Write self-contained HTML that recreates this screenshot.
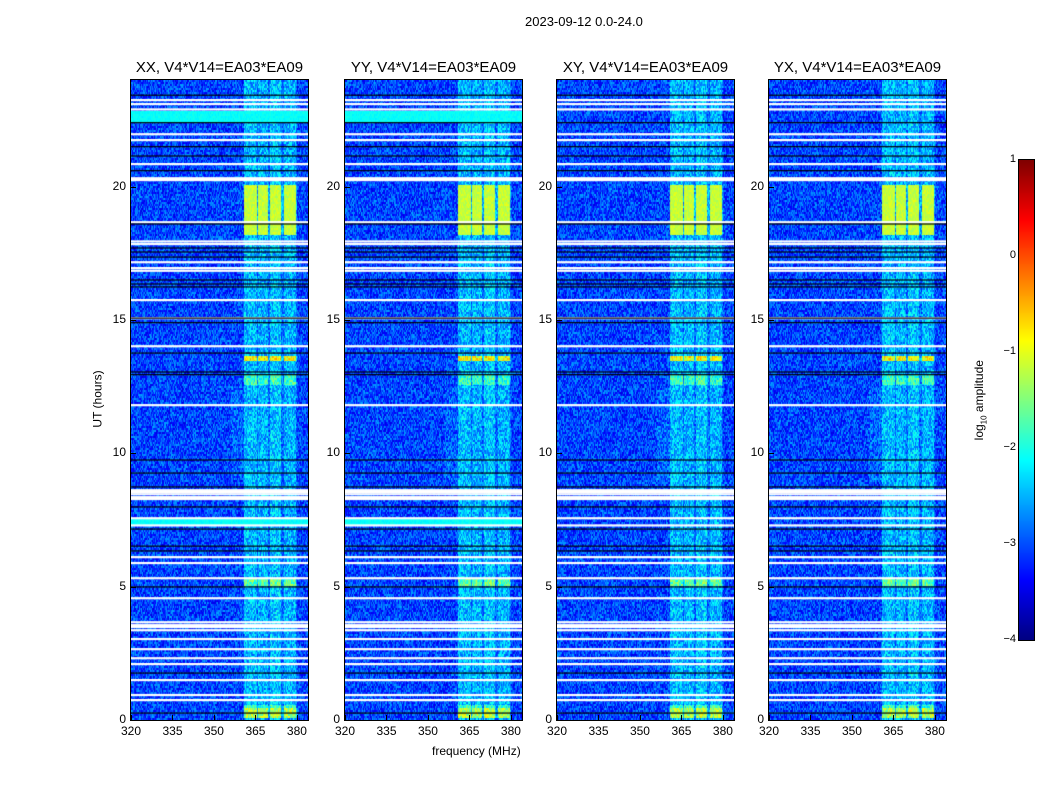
<!DOCTYPE html>
<html><head><meta charset="utf-8">
<style>
body{margin:0;background:#fff;width:1050px;height:800px;overflow:hidden;font-family:"Liberation Sans",sans-serif;}
#root{position:relative;width:1050px;height:800px;}
.t{position:absolute;white-space:nowrap;color:#000;}
canvas{position:absolute;}
</style></head><body>
<div id="root">
<div class="t" style="left:525px;top:14px;font-size:13px">2023-09-12 0.0-24.0</div>
<div class="t" style="left:432px;top:744px;font-size:12px">frequency (MHz)</div>
<div class="t" style="left:69px;top:392px;font-size:12px;transform:rotate(-90deg);transform-origin:center">UT (hours)</div>
<div class="t" style="left:940px;top:392px;font-size:12px;transform:rotate(-90deg)">log<sub style="font-size:8px">10</sub> amplitude</div>
</div>
<script>
// ---- data ----
const panelTitles=["XX, V4*V14=EA03*EA09","YY, V4*V14=EA03*EA09","XY, V4*V14=EA03*EA09","YX, V4*V14=EA03*EA09"];
const panelLeft=[131,345,557,769];
const xTicks=[320,335,350,365,380];
const yTicks=[0,5,10,15,20];
const cbTicks=[1,0,-1,-2,-3,-4];
// RFI sub-bands [startMHz,endMHz]
const bandStart=[360.5,365.9,370.2,375.3];
const bandEnd=[365.2,369.5,374.2,379.6];
const bandBase=[-2.45,-2.5,-2.4,-2.5];
// RFI events [startHour,endHour,boost]
const eventStart=[18.2,13.5,12.6,5.05,0.1,0.45];
const eventEnd=[20.1,13.65,12.95,5.3,0.45,0.6];
const eventBoost=[1.1,1.6,0.6,0.8,1.2,0.6];
// flagged rows (hours), white = blank, black = dark
const whiteRows=[23.25,23.1,22.9,21.97,21.75,20.85,20.32,20.25,18.67,17.95,17.85,17.17,16.95,16.85,15.75,15.07,14.02,11.81,8.62,8.55,8.47,8.36,8.29,7.57,7.3,6.11,5.89,5.32,4.57,3.67,3.56,3.49,3.37,3.04,2.66,2.32,2.1,1.5,0.94,0.75];
const blackRows=[23.43,22.4,21.5,21.15,20.6,18.6,17.7,17.55,17.36,16.5,16.35,16.24,15.07,14.9,13.76,13.05,12.95,9.75,9.26,8.74,7.99,7.16,6.52,6.34,4.99,1.76,0.26];
const cyanBandPanels=[1,1,0,0];
// ---- drawing ----
const root=document.getElementById('root');
const X0=320,X1=384,PW=177,TOP=80,BOT=720,H=24;
function xs(f){return (f-X0)/(X1-X0)*PW;}
function ys(h){return BOT-h/H*(BOT-TOP);}
function jet(v){let t=(v+4)/5;t=Math.max(0,Math.min(1,t));
 const c=x=>Math.round(255*Math.max(0,Math.min(1,1.5-Math.abs(4*t-x))));
 return [c(3),c(2),c(1)];}
function hash(a,b,c){let h=(a*374761393+b*668265263+c*2147483647)|0;h=(h^(h>>>13))*1274126177;h=h^(h>>>16);return ((h>>>0)%10000)/10000;}
for(let p=0;p<4;p++){
 const L=panelLeft[p];
 const cv=document.createElement('canvas');
 
 
 cv.width=PW;cv.height=BOT-TOP;cv.style.left=L+'px';cv.style.top=TOP+'px';
 root.appendChild(cv);
 const ctx=cv.getContext('2d');const img=ctx.createImageData(PW,BOT-TOP);
 for(let y=0;y<BOT-TOP;y++){
  const hr=(BOT-TOP-y)/(BOT-TOP)*H;const row=y>>1;
  let ev=0;for(let i=0;i<eventStart.length;i++)if(hr>=eventStart[i]&&hr<eventEnd[i])ev=Math.max(ev,eventBoost[i]);
  const cyan=(cyanBandPanels[p]&&hr>22.4&&hr<22.85)||(hr>7.32&&hr<7.55&&p<2);
  for(let x=0;x<PW;x++){
   const f=X0+x/PW*(X1-X0);
   let v=-3.05+(hash(row,x,p)-0.5)*1.0;
   if(f>=360.5&&f<=380)v=-2.85+(hash(row,x,p+5)-0.5)*0.9+ev*0.3;
   for(let b=0;b<bandStart.length;b++)if(f>=bandStart[b]&&f<=bandEnd[b]){v=bandBase[b]+(hash(row,x,p+7)-0.5)*1.0+ev;if(ev>0.9&&hr>18)v=-1.15+(hash(row,x,p)-0.5)*0.35;}
   if(f>356&&f<360.5&&hr>9&&hr<12.5)v+=0.15;
   if(cyan)v=-2.1+(hash(row,x,p+3)-0.5)*0.2;
   const c=jet(v);const k=(y*PW+x)*4;img.data[k]=c[0];img.data[k+1]=c[1];img.data[k+2]=c[2];img.data[k+3]=255;
  }
 }
 ctx.putImageData(img,0,0);
 whiteRows.forEach(h=>{ctx.fillStyle='#fff';ctx.fillRect(0,ys(h)-TOP-1,PW,2.2);});
 blackRows.forEach(h=>{ctx.fillStyle='#000';ctx.fillRect(0,ys(h)-TOP-0.6,PW,1.2);});
 const fr=document.createElement('div');
 
 
 fr.style.cssText=`position:absolute;left:${L-1}px;top:${TOP-1}px;width:${PW}px;height:${BOT-TOP}px;border:1px solid #000;`;
 root.appendChild(fr);
 const tt=document.createElement('div');tt.className='t';
 
 
 tt.textContent=panelTitles[p];tt.style.cssText=`left:${L+PW/2}px;top:59px;font-size:15px;transform:translateX(-50%)`;
 root.appendChild(tt);
 xTicks.forEach(v=>{const t=document.createElement('div');t.className='t';
  
  
  t.textContent=v;t.style.cssText=`left:${L+xs(v)}px;top:724px;font-size:12px;transform:translateX(-50%)`;root.appendChild(t);
  const m=document.createElement('div');
  
  
  m.style.cssText=`position:absolute;left:${L+xs(v)}px;top:${BOT-5}px;width:1px;height:5px;background:#000`;root.appendChild(m);});
 yTicks.forEach(v=>{const t=document.createElement('div');t.className='t';
  
  
  t.textContent=v;t.style.cssText=`right:${1050-L+5}px;top:${ys(v)-8}px;font-size:12px`;root.appendChild(t);
  const m=document.createElement('div');
  
  
  m.style.cssText=`position:absolute;left:${L}px;top:${ys(v)}px;width:5px;height:1px;background:#000`;root.appendChild(m);});
}
const CT=160,CB=640;
const cb=document.createElement('canvas');


cb.width=15;cb.height=CB-CT;cb.style.left='1019px';cb.style.top=CT+'px';cb.style.outline='1px solid #000';
root.appendChild(cb);
const cc=cb.getContext('2d');
for(let y=0;y<CB-CT;y++){const v=1-y/(CB-CT)*5;const c=jet(v);cc.fillStyle=`rgb(${c})`;cc.fillRect(0,y,15,1);}
cbTicks.forEach(v=>{const y=CT+(1-v)/5*(CB-CT);const t=document.createElement('div');t.className='t';
 
 
 t.textContent=v<0?'\u2212'+(-v):v;t.style.cssText=`right:${1050-1016}px;top:${y-7}px;font-size:11px`;root.appendChild(t);});
</script>
</body></html>
